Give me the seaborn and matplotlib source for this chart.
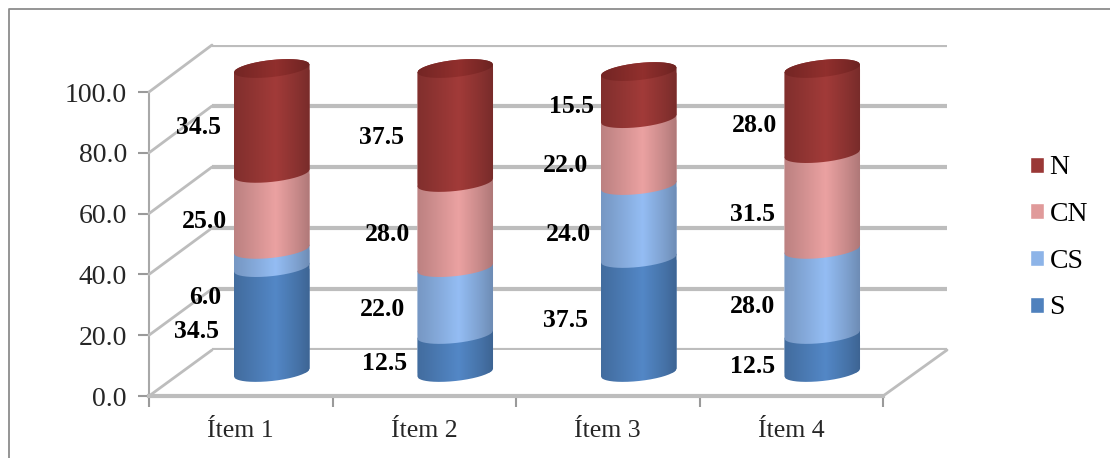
import numpy as np
import matplotlib
matplotlib.use("Agg")
import matplotlib.pyplot as plt
import seaborn as sns
from matplotlib.colors import to_rgb
from matplotlib.lines import Line2D
from matplotlib.patches import ConnectionPatch, PathPatch
from matplotlib.path import Path

# datos
items = ["Ítem 1", "Ítem 2", "Ítem 3", "Ítem 4"]
series = ["S", "CS", "CN", "N"]
val_s = [34.5, 12.5, 37.5, 12.5]
val_cs = [6.0, 22.0, 24.0, 28.0]
val_cn = [25.0, 28.0, 22.0, 31.5]
val_n = [34.5, 37.5, 15.5, 28.0]
y_ticks = [0, 20, 40, 60, 80, 100]

# estilo
colores = ["#4F81BD", "#8DB4E8", "#E09A9A", "#9A3836"]
color_tapa = "#8A2D2B"
gris = "#BDBDBD"

# ajuste a mano de cada etiqueta respecto al centro del segmento (px)
desv_x = [[-75, -67, -67, -73], [-71, -73, -68, -74], [-73, -70, -73, -67], [-70, -70, -70, -68]]
desv_y = [[11, 39, 10, 7], [10, 8, 9, 12], [5, 12, 13, 11], [13, 15, 13, 14]]

W, H = 1110, 458
sns.set_theme(style="white")
plt.rcParams["font.family"] = ["Liberation Serif", "DejaVu Serif"]
plt.rcParams["text.color"] = "black"

fig = plt.figure(figsize=(W / 100, H / 100), dpi=100)


def caja(x0, y0, x1, y1):
    return [x0 / W, 1 - y1 / H, (x1 - x0) / W, (y1 - y0) / H]


# --- pared del fondo ---
ax_back = fig.add_axes(caja(212, 45, 947, 350))
ax_back.set_ylim(0, 100)
ax_back.set_yticks(y_ticks)
ax_back.set_xticks([])
ax_back.tick_params(left=False, labelleft=False)
ax_back.grid(axis="y", color=gris, lw=3)
ax_back.patch.set_alpha(0)
sns.despine(ax=ax_back, left=True, bottom=True)

# --- plano frontal con los ejes ---
ax = fig.add_axes(caja(149, 92, 883, 396))
ax.patch.set_alpha(0)
ax.set_xlim(-0.5, 3.5)
ax.set_ylim(0, 100)
ax.set_yticks(y_ticks, [f"{v:.1f}" for v in y_ticks])
ax.set_xticks(np.arange(-0.5, 4), [])
ax.set_xticks(range(4), items, minor=True)
ax.tick_params(axis="y", left=True, length=8, width=1.5, color="#9A9A9A", labelsize=20, pad=8)
ax.tick_params(axis="x", which="major", bottom=True, length=8, width=1.5, color="#9A9A9A")
ax.tick_params(axis="x", which="minor", bottom=False, labelsize=18.5, pad=13)
sns.despine(ax=ax, top=True, right=True)
ax.spines["left"].set_color("#A8A8A8")
ax.spines["left"].set_linewidth(1.5)
ax.spines["bottom"].set_color(gris)
ax.spines["bottom"].set_linewidth(3)

# diagonales del suelo y la pared lateral
for v in y_ticks:
    fig.add_artist(ConnectionPatch((0, v), (0, v), ax.get_yaxis_transform(), ax_back.get_yaxis_transform(),
                                   color=gris, lw=2))
fig.add_artist(ConnectionPatch((1, 0), (1, 0), ax.get_yaxis_transform(), ax_back.get_yaxis_transform(),
                               color=gris, lw=2))

# --- cilindros, en el plano intermedio ---
ax_bar = fig.add_axes(caja(180, 68.5, 914, 372.5))
ax_bar.patch.set_alpha(0)
ax_bar.set_zorder(3)

valores = [val_s, val_cs, val_cn, val_n]
base = np.zeros(4)
barras = []
for nombre, vals, col in zip(series, valores, colores):
    n_antes = len(ax_bar.patches)
    sns.barplot(x=items, y=vals, bottom=base, color=col, saturation=1, width=0.412,
                label=nombre, ax=ax_bar)
    barras.append(ax_bar.patches[n_antes:])
    base = base + np.array(vals)

h, l = ax_bar.get_legend_handles_labels()
if ax_bar.get_legend() is not None:
    ax_bar.get_legend().remove()

# sombreado horizontal del cilindro
pos_g = [0.0, 0.12, 0.55, 0.85, 1.0]
fac_g = [0.84, 0.88, 1.05, 0.88, 0.78]
semi = 2.8
incl = 1.3
t = np.linspace(-1, 1, 80)


def sombreado(col):
    f = np.interp(np.linspace(0, 1, 120), pos_g, fac_g)[None, :, None]
    return np.clip(f * np.array(to_rgb(col))[None, None, :], 0, 1)


def pintar(xs, ys, col, z, b):
    forma = PathPatch(Path(np.column_stack([xs, ys])), transform=ax_bar.transData)
    img = ax_bar.imshow(sombreado(col), extent=(b.get_x(), b.get_x() + b.get_width(), -10, 110),
                        aspect="auto", zorder=z, interpolation="bilinear")
    img.set_clip_box(fig.bbox)
    img.set_clip_path(forma)


for k, grupo in enumerate(barras):
    for b in grupo:
        cx = b.get_x() + b.get_width() / 2
        x = cx + t * b.get_width() / 2
        y0 = b.get_y()
        y1 = y0 + b.get_height()
        arco = semi * np.sqrt(1 - t ** 2)
        xs = np.r_[x, x[::-1]]
        ys = np.r_[y0 - arco + incl * t, (y1 + arco + incl * t)[::-1]]
        # la barra queda recortada a la forma del cilindro
        b.set_clip_path(PathPatch(Path(np.column_stack([xs, ys])), transform=ax_bar.transData))
        pintar(xs, ys, colores[k], 2 + k * 0.1, b)
        if k == len(barras) - 1:
            # tapa superior
            ys = np.r_[y1 - arco + incl * t, (y1 + arco + incl * t)[::-1]]
            pintar(xs, ys, color_tapa, 3, b)

ax_bar.set_xlim(-0.5, 3.5)
ax_bar.set_ylim(0, 100)
ax_bar.axis("off")

# etiquetas de datos
base = np.zeros(4)
for k, vals in enumerate(valores):
    for i, v in enumerate(vals):
        ax_bar.annotate(f"{v:.1f}", xy=(i, base[i] + v / 2),
                        xytext=(desv_x[i][k], -desv_y[i][k]), textcoords="offset pixels",
                        ha="center", va="center", fontsize=18.5, fontweight="bold",
                        color="black", zorder=6, annotation_clip=False)
    base = base + np.array(vals)

# leyenda
fig.legend(h[::-1], l[::-1], loc="center left", bbox_to_anchor=(1030 / W, 1 - 238 / H), frameon=False,
           fontsize=20, handlelength=0.5, handleheight=0.5, handletextpad=0.2, labelspacing=0.78,
           borderpad=0, borderaxespad=0)

# marco exterior
fig.add_artist(Line2D([9 / W, 9 / W, 1], [0, 1 - 9 / H, 1 - 9 / H], color="#8C8C8C", lw=1.3))

fig.savefig("out.png", dpi=100)
